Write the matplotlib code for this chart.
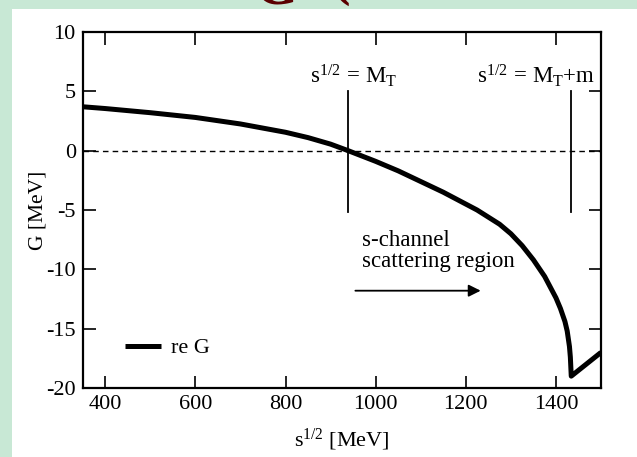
import matplotlib
matplotlib.use("Agg")
import matplotlib.pyplot as plt
from matplotlib.patches import Rectangle
import numpy as np

plt.rcParams['font.family'] = ['Liberation Serif', 'DejaVu Serif']
plt.rcParams['mathtext.fontset'] = 'custom'
plt.rcParams['mathtext.rm'] = 'Liberation Serif'
plt.rcParams['mathtext.it'] = 'Liberation Serif:italic'
plt.rcParams['axes.unicode_minus'] = False

# data (MeV)
sqrt_s = [350, 400, 500, 600, 700, 800, 850, 900, 939, 1000, 1050, 1100, 1150, 1200,
          1225, 1250, 1275, 1300, 1325, 1350, 1375, 1400, 1410, 1420, 1425, 1430,
          1432, 1434, 1467, 1500]
re_G = [3.7, 3.55, 3.2, 2.8, 2.25, 1.55, 1.1, 0.55, 0.0, -0.9, -1.7, -2.6, -3.5, -4.5,
        -5.0, -5.6, -6.2, -7.0, -8.0, -9.2, -10.6, -12.4, -13.3, -14.4, -15.2, -16.5,
        -17.4, -19.0, -18.0, -17.0]
M_T = 939
M_T_plus_m = 1434
xticks = [400, 600, 800, 1000, 1200, 1400]
yticks = [-20, -15, -10, -5, 0, 5, 10]

W, H = 637, 457
fig = plt.figure(figsize=(W / 100, H / 100), dpi=100)
fig.patch.set_facecolor('#c8e8d5')
fig.patches.append(Rectangle((12 / W, 0), 1 - 12 / W, (H - 9) / H,
                             transform=fig.transFigure, facecolor='white',
                             edgecolor='none', zorder=-5))
# partially visible title glyphs at top
fig.text(276 / W, 1 - 3 / H, 'G', color='#5a0000', fontsize=40, fontweight='bold',
         ha='center', va='baseline', zorder=-4)
fig.text(341 / W, 1 + 6 / H, '(', color='#5a0000', fontsize=40, fontweight='bold',
         ha='center', va='baseline', zorder=-4)

ax = fig.add_axes([82.7 / W, (H - 388) / H, (601 - 82.7) / W, (388 - 32) / H])
ax.set_zorder(1)
ax.set_facecolor('white')

ax.plot(sqrt_s, re_G, color='black', lw=3.6, solid_capstyle='butt',
        solid_joinstyle='round', label='re G', zorder=3)
ax.axhline(0, color='black', lw=1.0, ls=(0, (4, 3.0)), zorder=2)
ax.plot([M_T, M_T], [-5.2, 5.0], color='black', lw=1.3)
ax.plot([M_T_plus_m, M_T_plus_m], [-5.2, 5.0], color='black', lw=1.3)

ax.text(855, 5.2, r'$\mathrm{s}^{1/2}\,\mathrm{=}\,\mathrm{M}_\mathrm{T}$', fontsize=16.5,
        ha='left', va='bottom')
ax.text(1224, 5.2, r'$\mathrm{s}^{1/2}\,\mathrm{=}\,\mathrm{M}_\mathrm{T}\mathrm{+m}$', fontsize=16.5,
        ha='left', va='bottom')

ax.text(970, -6.7, 's-channel\nscattering region', fontsize=16.5, ha='left', va='top',
        linespacing=1.0)
ax.annotate('', xy=(1233, -11.8), xytext=(955, -11.8),
            arrowprops=dict(arrowstyle='-|>', color='black', lw=1.3,
                            mutation_scale=18, shrinkA=0, shrinkB=0))

ax.set_xlim(350, 1500)
ax.set_ylim(-20, 10)
ax.set_xticks(xticks)
ax.set_yticks(yticks)
ax.tick_params(direction='in', length=9, width=1.2, top=True, right=True,
               labelsize=16, pad=5)
for sp in ax.spines.values():
    sp.set_linewidth(1.6)

ax.set_xlabel(r'$\mathrm{s}^{1/2}$ [MeV]', fontsize=16, labelpad=9)
ax.set_ylabel('G [MeV]', fontsize=15.5, labelpad=-1)

leg = ax.legend(loc='center left', bbox_to_anchor=((125 - 82.7) / 518.3, 0.112),
                frameon=False, borderaxespad=0, borderpad=0,
                fontsize=16, handlelength=1.6, handletextpad=0.45)

fig.savefig('out.png', dpi=100, facecolor=fig.get_facecolor())
